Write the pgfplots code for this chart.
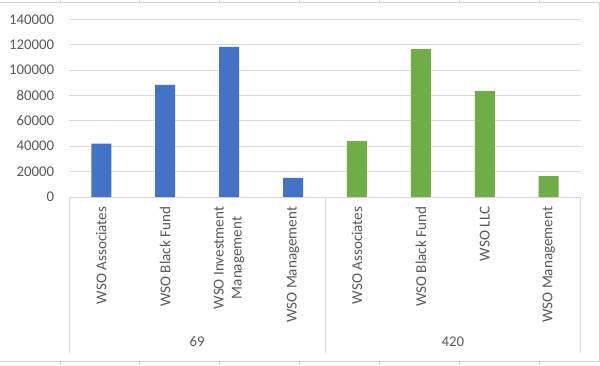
\documentclass[border=0pt]{standalone}
\usepackage{pgfplots}
\pgfplotsset{compat=1.18}
\usepackage{fontspec}
\setmainfont{Carlito}
\definecolor{barblue}{HTML}{4472C4}
\definecolor{bargreen}{HTML}{70AD47}
\definecolor{gridc}{HTML}{D9D9D9}
\definecolor{txt}{HTML}{595959}
\definecolor{cellc}{HTML}{D4D4D4}
\newcommand{\lblfont}{\fontsize{14.8}{18}\selectfont}
\newcommand{\rotfont}{\fontsize{15.1}{18}\selectfont}
\begin{document}
\begin{tikzpicture}[x=1pt,y=1pt]
\path[use as bounding box] (0,0) rectangle (600,-365);
\fill[white] (0,0) rectangle (600,-365);
\foreach \x in {60,139.5,219,299,379,459,539} {
  \draw[cellc,line width=0.8pt] (\x,0) -- (\x,-2);
  \draw[cellc,line width=0.8pt] (\x,-361) -- (\x,-365);
}
\draw[cellc,line width=0.8pt] (0,-2) -- (599.3,-2) -- (599.3,-361) -- (0,-361);
\begin{axis}[
  at={(69.3pt,-197pt)}, anchor=south west, scale only axis,
  width=511.4pt, height=177.7pt,
  xmin=-0.5, xmax=7.5, ymin=0, ymax=140000,
  ytick={0,20000,...,140000},
  scaled y ticks=false,
  /pgf/number format/fixed,
  /pgf/number format/1000 sep={},
  /pgf/number format/assume math mode=true,
  xtick={0,...,7},
  xticklabels={WSO Associates, WSO Black Fund, {WSO Investment\\Management}, WSO Management, WSO Associates, WSO Black Fund, WSO LLC, WSO Management},
  axis lines*=left,
  y axis line style={draw=none},
  x axis line style={gridc, line width=0.8pt},
  tick style={draw=none},
  major tick length=0pt,
  ymajorgrids,
  grid style={gridc, line width=0.8pt},
  yticklabel style={font=\lblfont, text=txt, anchor=east, inner sep=0pt, xshift=-15pt},
  xticklabel style={font=\rotfont, text=txt, yshift=-9.5pt, rotate=90, anchor=east, align=center, inner sep=0pt},
  clip=false,
]
\addplot[ybar, bar width=20pt, fill=barblue, draw=none] coordinates {(0,42000) (1,88300) (2,118200) (3,15000)};
\addplot[ybar, bar width=20pt, fill=bargreen, draw=none] coordinates {(4,44100) (5,116600) (6,83500) (7,16500)};
\draw[gridc, line width=0.8pt] (axis cs:-0.5,0) -- ([yshift=-156pt]axis cs:-0.5,0);
\draw[gridc, line width=0.8pt] (axis cs:3.5,0) -- ([yshift=-156pt]axis cs:3.5,0);
\draw[gridc, line width=0.8pt] (axis cs:7.5,0) -- ([yshift=-156pt]axis cs:7.5,0);
\node[text=txt, font=\lblfont, yshift=-145pt] at (axis cs:1.5,0) {69};
\node[text=txt, font=\lblfont, yshift=-145pt] at (axis cs:5.5,0) {420};
\end{axis}
\end{tikzpicture}
\end{document}
